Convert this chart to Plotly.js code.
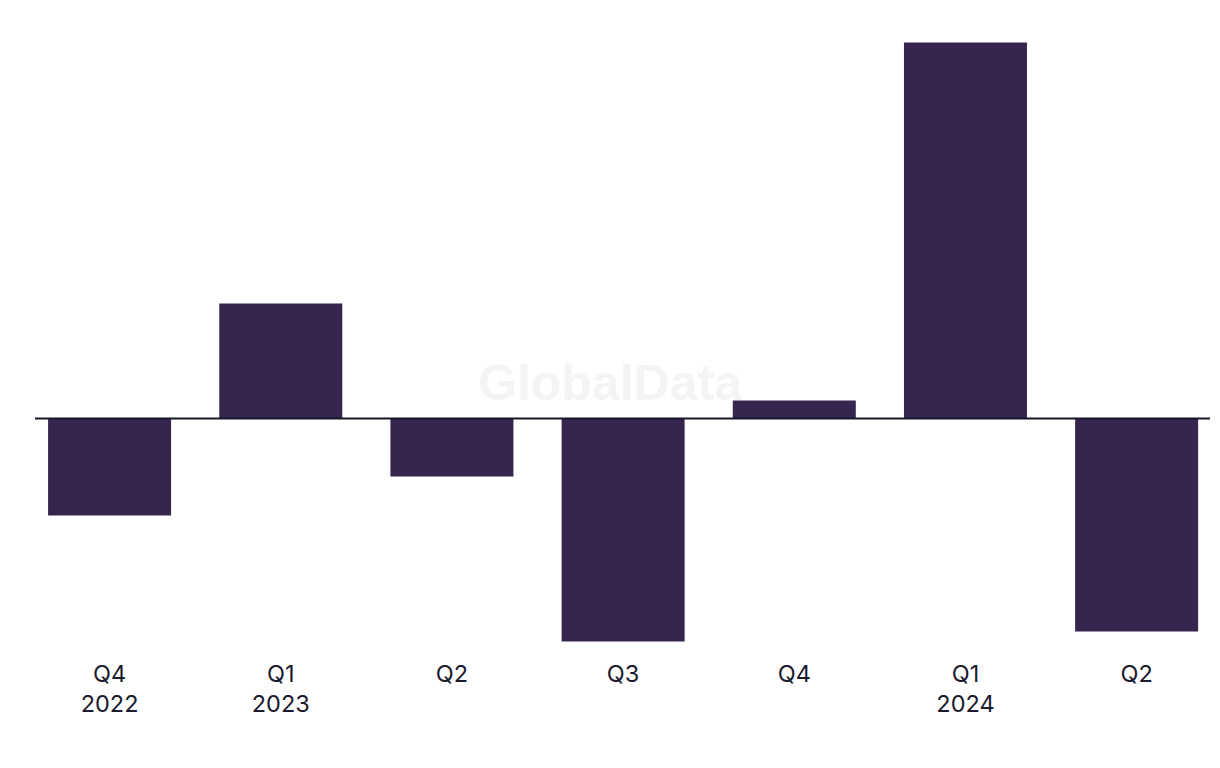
<!DOCTYPE html>
<html>
<head>
<meta charset="utf-8">
<script src="https://cdn.plot.ly/plotly-3.0.1.min.js"></script>
<style>html,body{margin:0;padding:0;background:#fff;}#chart{width:1220px;height:768px;}</style>
</head>
<body>
<div id="chart"></div>
<script>
const categories = ["Q4<br>2022", "Q1<br>2023", "Q2", "Q3", "Q4", "Q1<br>2024", "Q2"];
const categoryKeys = ["Q4 2022", "Q1 2023", "Q2 2023", "Q3 2023", "Q4 2023", "Q1 2024", "Q2 2024"];
const values = [-9.7, 11.5, -5.8, -22.3, 1.8, 37.6, -21.3];

const barColor = "#36254f";
const textColor = "#1b1a2e";

const trace = {
  type: "bar",
  x: categoryKeys,
  y: values,
  marker: {color: barColor, line: {width: 0}},
  width: 0.7186,
  hoverinfo: "x+y"
};

const layout = {
  width: 1220,
  height: 768,
  margin: {l: 24, r: 0, t: 30, b: 120},
  paper_bgcolor: "#ffffff",
  plot_bgcolor: "#ffffff",
  showlegend: false,
  font: {family: "Inter, 'Liberation Sans', Arial, sans-serif", color: textColor, size: 23},
  xaxis: {
    type: "category",
    range: [-0.5, 6.487],
    tickmode: "array",
    tickvals: categoryKeys,
    ticktext: categories,
    showgrid: false,
    showline: false,
    zeroline: false,
    ticks: "",
    ticklabelstandoff: 9,
    tickfont: {size: 23.5, color: textColor}
  },
  yaxis: {
    range: [-22.95, 38.85],
    showgrid: false,
    zeroline: false,
    showline: false,
    showticklabels: false,
    ticks: ""
  },
  shapes: [{
    type: "line",
    xref: "paper", yref: "y",
    x0: 0.0092, x1: 0.9916, y0: 0, y1: 0,
    line: {color: "#17162a", width: 2},
    layer: "above"
  }],
  annotations: [{
    text: "<b>GlobalData</b>",
    xref: "paper", yref: "paper",
    x: (610 - 24) / 1196, y: (648 - 383) / 618,
    xanchor: "center", yanchor: "middle",
    showarrow: false,
    font: {family: "'Liberation Sans', Arial, sans-serif", size: 50, color: "#f4f4f5"}
  }]
};

Plotly.newPlot("chart", [trace], layout, {displayModeBar: false, staticPlot: true});
</script>
</body>
</html>
